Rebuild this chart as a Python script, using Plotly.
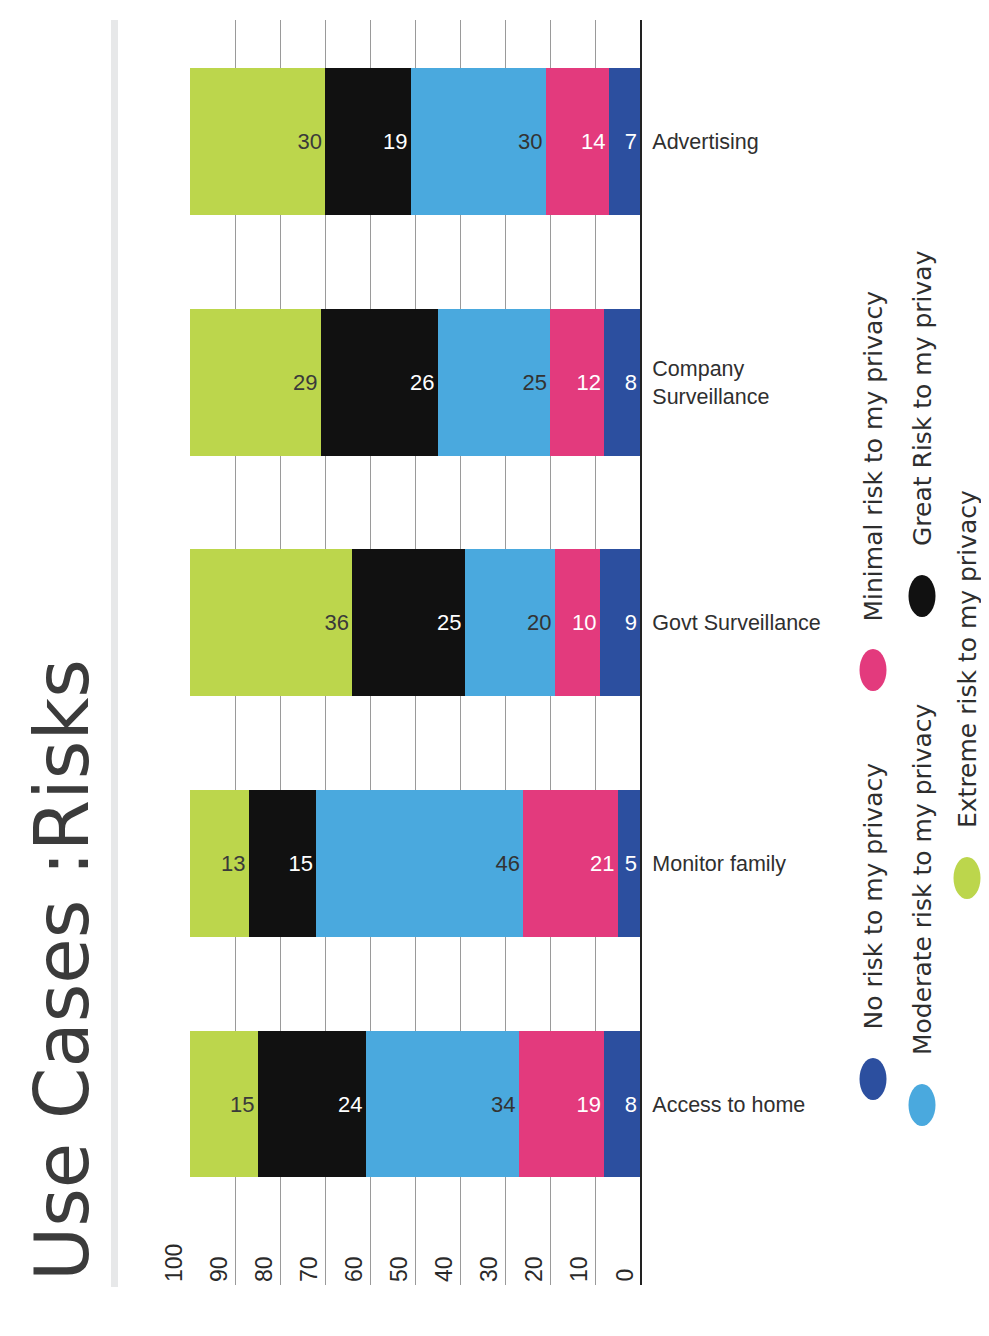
import plotly.graph_objects as go

# ---------------- data ----------------
categories = ["Advertising", "Company<br>Surveillance", "Govt Surveillance",
              "Monitor family", "Access to home"]
series_names = ["No risk to my privacy", "Minimal risk to my privacy",
                "Moderate risk to my privacy", "Great Risk to my privay",
                "Extreme risk to my privacy"]
no_risk = [7, 8, 9, 5, 8]
minimal_risk = [14, 12, 10, 21, 19]
moderate_risk = [30, 25, 20, 46, 34]
great_risk = [19, 26, 25, 15, 24]
extreme_risk = [30, 29, 36, 13, 15]
tick_values = [0, 10, 20, 30, 40, 50, 60, 70, 80, 90, 100]
tick_labels = ["0", "10", "20", "30", "40", "50", "60", "70", "80", "90", "100"]
title_text = "Use Cases :Risks"

series_values = [no_risk, minimal_risk, moderate_risk, great_risk, extreme_risk]
colors = ["#2c4f9f", "#e33a7d", "#4aa9de", "#111111", "#bcd64c"]
text_colors = ["#ffffff", "#ffffff", "#333333", "#ffffff", "#3a3a3a"]

# ---------------- geometry ----------------
# page body has an 8px margin, so figure pixel = screen pixel - 8
OFF = 8
W, H = 981, 1320
L, T = 190 - OFF, 20 - OFF
PW, PH = 450, 1265
R = W - L - PW
B = H - T - PH


def px(x):
    """screen x -> paper x"""
    return (x - OFF - L) / PW


def py(y):
    """screen y -> paper y"""
    return (T + PH - (y - OFF)) / PH


FONT = "Liberation Sans, Arial, sans-serif"

fig = go.Figure()
for name, vals, col, tcol in zip(series_names, series_values, colors, text_colors):
    fig.add_trace(go.Bar(
        y=categories, x=vals, name=name, orientation="h",
        marker=dict(color=col, line=dict(width=0)),
        text=[str(v) for v in vals], textposition="inside",
        insidetextanchor="start", textangle=0, constraintext="none",
        insidetextfont=dict(family=FONT, size=22, color=tcol),
        showlegend=False, hoverinfo="skip",
    ))

annotations = []
# value-axis tick labels (rotated, inside the plot at the bottom)
for v, lab in zip(tick_values, tick_labels):
    annotations.append(dict(
        x=v, xref="x", y=py(1284), yref="paper", text=lab, showarrow=False,
        textangle=-90, xanchor="right", yanchor="bottom", xshift=-1,
        font=dict(family=FONT, size=23, color="#2a2a2a"),
    ))

# title
annotations.append(dict(
    x=px(62), xref="paper", y=py(1283), yref="paper", text=title_text,
    showarrow=False, textangle=-90, xanchor="center", yanchor="bottom",
    font=dict(family="DejaVu Sans, sans-serif", size=74, color="#3b3b3b"),
))

# manual legend (rotated)
legend_pos = [  # (column x, dot y, text bottom y) in screen pixels
    (873, 1079, 1032),
    (873, 670, 624),
    (922, 1105, 1057),
    (922, 596, 548),
    (967, 878, 830),
]
shapes = []
for (lx, dy, ty), name, col in zip(legend_pos, series_names, colors):
    shapes.append(dict(
        type="circle", xref="paper", yref="paper",
        xsizemode="pixel", ysizemode="pixel",
        xanchor=px(lx), yanchor=py(dy),
        x0=-13.5, x1=13.5, y0=-21, y1=21,
        fillcolor=col, line=dict(width=0),
    ))
    annotations.append(dict(
        x=px(lx), xref="paper", y=py(ty), yref="paper", text=name,
        showarrow=False, textangle=-90, xanchor="center", yanchor="bottom",
        font=dict(family="DejaVu Sans, sans-serif", size=25, color="#2e2e2e"),
    ))

# light grey separator line
shapes.append(dict(
    type="rect", xref="paper", yref="paper",
    x0=px(111), x1=px(118), y0=py(1287), y1=py(20),
    fillcolor="#e7e8e9", line=dict(width=0), layer="below",
))

fig.update_layout(
    width=W, height=H,
    margin=dict(l=L, r=R, t=T, b=B, autoexpand=False),
    paper_bgcolor="white", plot_bgcolor="white",
    barmode="stack", bargap=0.39,
    xaxis=dict(range=[100, 0], dtick=10, tick0=0, showgrid=True,
               gridcolor="#9a9a9a", gridwidth=1, showticklabels=False,
               zeroline=False, showline=False, ticks=""),
    yaxis=dict(range=[4.752, -0.505], side="right", showgrid=False,
               showline=True, linecolor="#222222", linewidth=2,
               ticks="", ticklabelstandoff=6,
               tickfont=dict(family=FONT, size=21.5, color="#2f2f2f"),
               zeroline=False),
    annotations=annotations, shapes=shapes,
)

fig.write_html("out.html")
